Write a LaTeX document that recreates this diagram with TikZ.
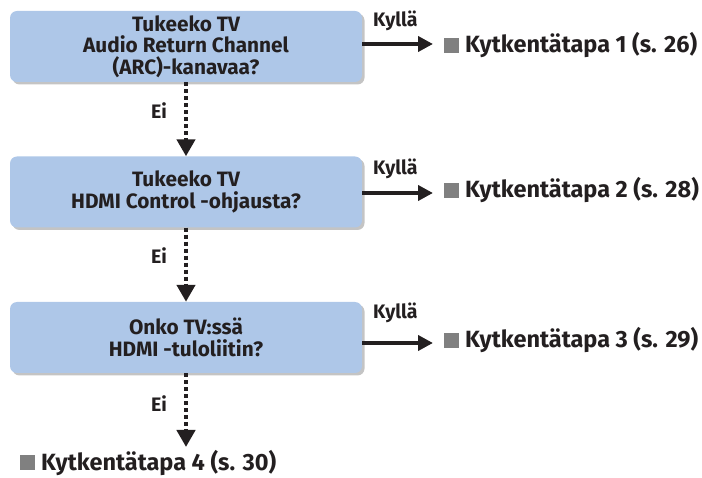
\documentclass[tikz,border=0pt]{standalone}
\usepackage{fontspec}
\setmainfont{Fira Sans}
\usepackage{xcolor}
\usetikzlibrary{arrows.meta, positioning, shadows}
\definecolor{boxblue}{RGB}{174,199,232}
\definecolor{shadowgray}{RGB}{196,196,196}
\definecolor{markgray}{RGB}{128,128,128}
\definecolor{inkblack}{RGB}{35,31,32}
\newcommand{\graysq}{{\color{markgray}\rule{15pt}{15pt}}\hspace{6pt}}
\tikzset{
  qbox/.style={rectangle, rounded corners=7pt, fill=boxblue,
               minimum width=352pt, minimum height=71pt, inner sep=0pt,
               align=center, text=inkblack,
               font=\bfseries\fontsize{20.8}{21.5}\selectfont,
               drop shadow={shadow xshift=2.5pt, shadow yshift=-2.5pt,
                            fill=shadowgray, opacity=1}},
  result/.style={inner sep=0pt, anchor=base west, text=inkblack,
                 font=\bfseries\fontsize{23.5}{26}\selectfont},
  lbl/.style={inner sep=0pt, text=inkblack,
              font=\bfseries\fontsize{19.5}{22}\selectfont},
  yesarr/.style={-{Triangle[length=15pt, width=15pt]}, line width=4pt,
                 color=inkblack},
  noarr/.style={-{Triangle[length=17pt, width=18pt]}, line width=4.5pt,
                dash pattern=on 4pt off 3pt, color=inkblack},
}

\begin{document}
\begin{tikzpicture}[x=1pt, y=-1pt]
  \useasboundingbox (0,0) rectangle (702,478);

  % Question boxes
  \node[qbox] (arc)  at (186,46.5) {Tukeeko TV\\Audio Return Channel\\(ARC)-kanavaa?};
  \node[qbox] (ctrl) at (186,192)  {Tukeeko TV\\HDMI Control -ohjausta?};
  \node[qbox] (hdmi) at (186,337.5) {Onko TV:ssä\\HDMI -tuloliitin?};

  % Results
  \node[result] (way1) at (444,53)  {\graysq Kytkentätapa 1 (s. 26)};
  \node[result] (way2) at (444,198) {\graysq Kytkentätapa 2 (s. 28)};
  \node[result] (way3) at (444,348) {\graysq Kytkentätapa 3 (s. 29)};
  \node[result] (way4) at (20,470)  {\graysq Kytkentätapa 4 (s. 30)};

  % Arrow tips
  \coordinate (tip1) at (433,44);
  \coordinate (tip2) at (433,193);
  \coordinate (tip3) at (433,343);
  \coordinate (tip4) at (186,447);

  % Kyllä -> right
  \draw[yesarr] (arc.east |- tip1)  -- (tip1);
  \draw[yesarr] (ctrl.east |- tip2) -- (tip2);
  \draw[yesarr] (hdmi.east |- tip3) -- (tip3);
  \node[lbl, anchor=base west] (yes1) at (373,27)  {Kyllä};
  \node[lbl, anchor=base west] (yes2) at (373,175) {Kyllä};
  \node[lbl, anchor=base west] (yes3) at (373,319) {Kyllä};

  % Ei -> down
  \draw[noarr] (arc.south)  -- (ctrl.north);
  \draw[noarr] (ctrl.south) -- (hdmi.north);
  \draw[noarr] (hdmi.south) -- (tip4);
  \node[lbl, anchor=base east] (no1) at (167,119) {Ei};
  \node[lbl, anchor=base east] (no2) at (167,264) {Ei};
  \node[lbl, anchor=base east] (no3) at (167,412) {Ei};
\end{tikzpicture}
\end{document}
